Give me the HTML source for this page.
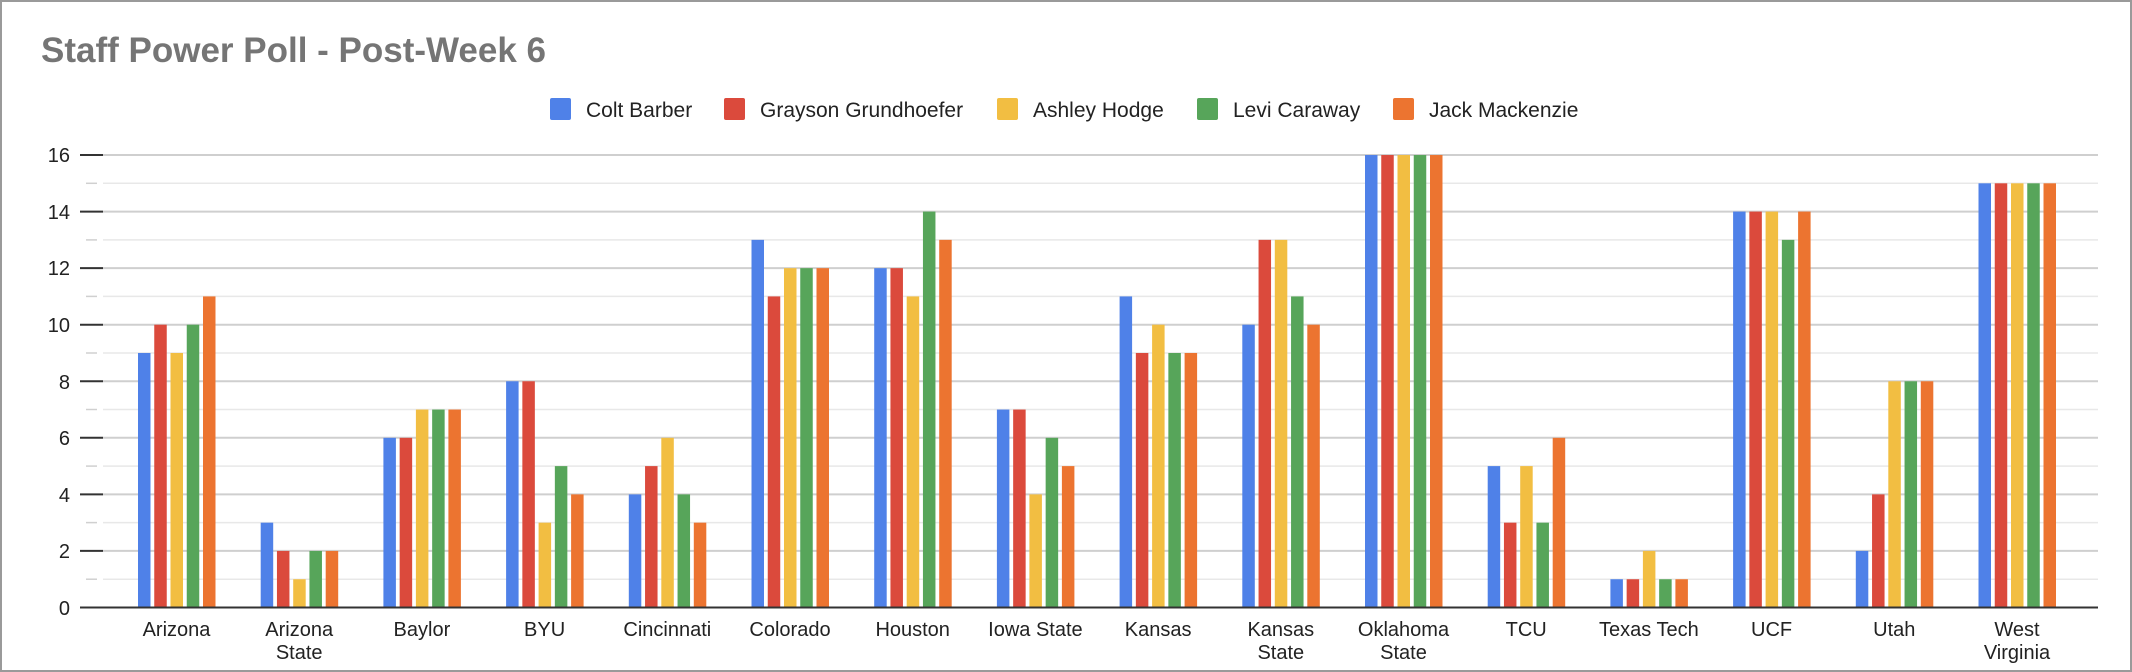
<!DOCTYPE html>
<html><head><meta charset="utf-8"><style>
html,body{margin:0;padding:0;background:#fff}
svg{display:block}
text{font-family:"Liberation Sans",Arial,sans-serif}
</style></head><body>
<svg width="2132" height="672" viewBox="0 0 2132 672" xmlns="http://www.w3.org/2000/svg">
<rect x="1" y="1" width="2130" height="670" fill="#fff" stroke="#9a9a9a" stroke-width="2"/>
<text x="41" y="62" font-size="35" font-weight="bold" fill="#757575">Staff Power Poll - Post-Week 6</text>
<g font-size="21" fill="#222">
<rect x="550" y="98" width="21" height="22" rx="2" fill="#4f81e8"/><text x="586" y="117">Colt Barber</text>
<rect x="724" y="98" width="21" height="22" rx="2" fill="#db4a3c"/><text x="760" y="117">Grayson Grundhoefer</text>
<rect x="997" y="98" width="21" height="22" rx="2" fill="#f2be42"/><text x="1033" y="117">Ashley Hodge</text>
<rect x="1197" y="98" width="21" height="22" rx="2" fill="#57a55a"/><text x="1233" y="117">Levi Caraway</text>
<rect x="1393" y="98" width="21" height="22" rx="2" fill="#ec7430"/><text x="1429" y="117">Jack Mackenzie</text>
</g>
<g stroke="#e8e8e8" stroke-width="1.5">
<line x1="103" x2="2098" y1="579.2" y2="579.2"/><line x1="103" x2="2098" y1="522.6" y2="522.6"/><line x1="103" x2="2098" y1="466.1" y2="466.1"/><line x1="103" x2="2098" y1="409.5" y2="409.5"/><line x1="103" x2="2098" y1="353" y2="353"/><line x1="103" x2="2098" y1="296.4" y2="296.4"/><line x1="103" x2="2098" y1="239.9" y2="239.9"/><line x1="103" x2="2098" y1="183.3" y2="183.3"/>
</g>
<g stroke="#d0d0d0" stroke-width="1.5">
<line x1="86" x2="97" y1="579.2" y2="579.2"/><line x1="86" x2="97" y1="522.6" y2="522.6"/><line x1="86" x2="97" y1="466.1" y2="466.1"/><line x1="86" x2="97" y1="409.5" y2="409.5"/><line x1="86" x2="97" y1="353" y2="353"/><line x1="86" x2="97" y1="296.4" y2="296.4"/><line x1="86" x2="97" y1="239.9" y2="239.9"/><line x1="86" x2="97" y1="183.3" y2="183.3"/>
</g>
<g stroke="#cfcfcf" stroke-width="2">
<line x1="103" x2="2098" y1="550.9" y2="550.9"/><line x1="103" x2="2098" y1="494.4" y2="494.4"/><line x1="103" x2="2098" y1="437.8" y2="437.8"/><line x1="103" x2="2098" y1="381.3" y2="381.3"/><line x1="103" x2="2098" y1="324.7" y2="324.7"/><line x1="103" x2="2098" y1="268.1" y2="268.1"/><line x1="103" x2="2098" y1="211.6" y2="211.6"/><line x1="103" x2="2098" y1="155" y2="155"/>
</g>
<g stroke="#333" stroke-width="2">
<line x1="80" x2="103" y1="550.9" y2="550.9"/><line x1="80" x2="103" y1="494.4" y2="494.4"/><line x1="80" x2="103" y1="437.8" y2="437.8"/><line x1="80" x2="103" y1="381.3" y2="381.3"/><line x1="80" x2="103" y1="324.7" y2="324.7"/><line x1="80" x2="103" y1="268.1" y2="268.1"/><line x1="80" x2="103" y1="211.6" y2="211.6"/><line x1="80" x2="103" y1="155" y2="155"/>
</g>
<g font-size="20" fill="#222" text-anchor="end">
<text x="70" y="615">0</text><text x="70" y="558">2</text><text x="70" y="502">4</text><text x="70" y="445">6</text><text x="70" y="389">8</text><text x="70" y="332">10</text><text x="70" y="275">12</text><text x="70" y="219">14</text><text x="70" y="162">16</text>
</g>
<g>
<g transform="translate(138,607.5) scale(1,-28.28)"><rect x="0" width="12.5" height="9" fill="#4f81e8"/><rect x="16.25" width="12.5" height="10" fill="#db4a3c"/><rect x="32.5" width="12.5" height="9" fill="#f2be42"/><rect x="48.75" width="12.5" height="10" fill="#57a55a"/><rect x="65" width="12.5" height="11" fill="#ec7430"/></g>
<g transform="translate(260.7,607.5) scale(1,-28.28)"><rect x="0" width="12.5" height="3" fill="#4f81e8"/><rect x="16.25" width="12.5" height="2" fill="#db4a3c"/><rect x="32.5" width="12.5" height="1" fill="#f2be42"/><rect x="48.75" width="12.5" height="2" fill="#57a55a"/><rect x="65" width="12.5" height="2" fill="#ec7430"/></g>
<g transform="translate(383.4,607.5) scale(1,-28.28)"><rect x="0" width="12.5" height="6" fill="#4f81e8"/><rect x="16.25" width="12.5" height="6" fill="#db4a3c"/><rect x="32.5" width="12.5" height="7" fill="#f2be42"/><rect x="48.75" width="12.5" height="7" fill="#57a55a"/><rect x="65" width="12.5" height="7" fill="#ec7430"/></g>
<g transform="translate(506.1,607.5) scale(1,-28.28)"><rect x="0" width="12.5" height="8" fill="#4f81e8"/><rect x="16.25" width="12.5" height="8" fill="#db4a3c"/><rect x="32.5" width="12.5" height="3" fill="#f2be42"/><rect x="48.75" width="12.5" height="5" fill="#57a55a"/><rect x="65" width="12.5" height="4" fill="#ec7430"/></g>
<g transform="translate(628.8,607.5) scale(1,-28.28)"><rect x="0" width="12.5" height="4" fill="#4f81e8"/><rect x="16.25" width="12.5" height="5" fill="#db4a3c"/><rect x="32.5" width="12.5" height="6" fill="#f2be42"/><rect x="48.75" width="12.5" height="4" fill="#57a55a"/><rect x="65" width="12.5" height="3" fill="#ec7430"/></g>
<g transform="translate(751.5,607.5) scale(1,-28.28)"><rect x="0" width="12.5" height="13" fill="#4f81e8"/><rect x="16.25" width="12.5" height="11" fill="#db4a3c"/><rect x="32.5" width="12.5" height="12" fill="#f2be42"/><rect x="48.75" width="12.5" height="12" fill="#57a55a"/><rect x="65" width="12.5" height="12" fill="#ec7430"/></g>
<g transform="translate(874.2,607.5) scale(1,-28.28)"><rect x="0" width="12.5" height="12" fill="#4f81e8"/><rect x="16.25" width="12.5" height="12" fill="#db4a3c"/><rect x="32.5" width="12.5" height="11" fill="#f2be42"/><rect x="48.75" width="12.5" height="14" fill="#57a55a"/><rect x="65" width="12.5" height="13" fill="#ec7430"/></g>
<g transform="translate(996.9,607.5) scale(1,-28.28)"><rect x="0" width="12.5" height="7" fill="#4f81e8"/><rect x="16.25" width="12.5" height="7" fill="#db4a3c"/><rect x="32.5" width="12.5" height="4" fill="#f2be42"/><rect x="48.75" width="12.5" height="6" fill="#57a55a"/><rect x="65" width="12.5" height="5" fill="#ec7430"/></g>
<g transform="translate(1119.6,607.5) scale(1,-28.28)"><rect x="0" width="12.5" height="11" fill="#4f81e8"/><rect x="16.25" width="12.5" height="9" fill="#db4a3c"/><rect x="32.5" width="12.5" height="10" fill="#f2be42"/><rect x="48.75" width="12.5" height="9" fill="#57a55a"/><rect x="65" width="12.5" height="9" fill="#ec7430"/></g>
<g transform="translate(1242.3,607.5) scale(1,-28.28)"><rect x="0" width="12.5" height="10" fill="#4f81e8"/><rect x="16.25" width="12.5" height="13" fill="#db4a3c"/><rect x="32.5" width="12.5" height="13" fill="#f2be42"/><rect x="48.75" width="12.5" height="11" fill="#57a55a"/><rect x="65" width="12.5" height="10" fill="#ec7430"/></g>
<g transform="translate(1365,607.5) scale(1,-28.28)"><rect x="0" width="12.5" height="16" fill="#4f81e8"/><rect x="16.25" width="12.5" height="16" fill="#db4a3c"/><rect x="32.5" width="12.5" height="16" fill="#f2be42"/><rect x="48.75" width="12.5" height="16" fill="#57a55a"/><rect x="65" width="12.5" height="16" fill="#ec7430"/></g>
<g transform="translate(1487.7,607.5) scale(1,-28.28)"><rect x="0" width="12.5" height="5" fill="#4f81e8"/><rect x="16.25" width="12.5" height="3" fill="#db4a3c"/><rect x="32.5" width="12.5" height="5" fill="#f2be42"/><rect x="48.75" width="12.5" height="3" fill="#57a55a"/><rect x="65" width="12.5" height="6" fill="#ec7430"/></g>
<g transform="translate(1610.4,607.5) scale(1,-28.28)"><rect x="0" width="12.5" height="1" fill="#4f81e8"/><rect x="16.25" width="12.5" height="1" fill="#db4a3c"/><rect x="32.5" width="12.5" height="2" fill="#f2be42"/><rect x="48.75" width="12.5" height="1" fill="#57a55a"/><rect x="65" width="12.5" height="1" fill="#ec7430"/></g>
<g transform="translate(1733.1,607.5) scale(1,-28.28)"><rect x="0" width="12.5" height="14" fill="#4f81e8"/><rect x="16.25" width="12.5" height="14" fill="#db4a3c"/><rect x="32.5" width="12.5" height="14" fill="#f2be42"/><rect x="48.75" width="12.5" height="13" fill="#57a55a"/><rect x="65" width="12.5" height="14" fill="#ec7430"/></g>
<g transform="translate(1855.8,607.5) scale(1,-28.28)"><rect x="0" width="12.5" height="2" fill="#4f81e8"/><rect x="16.25" width="12.5" height="4" fill="#db4a3c"/><rect x="32.5" width="12.5" height="8" fill="#f2be42"/><rect x="48.75" width="12.5" height="8" fill="#57a55a"/><rect x="65" width="12.5" height="8" fill="#ec7430"/></g>
<g transform="translate(1978.5,607.5) scale(1,-28.28)"><rect x="0" width="12.5" height="15" fill="#4f81e8"/><rect x="16.25" width="12.5" height="15" fill="#db4a3c"/><rect x="32.5" width="12.5" height="15" fill="#f2be42"/><rect x="48.75" width="12.5" height="15" fill="#57a55a"/><rect x="65" width="12.5" height="15" fill="#ec7430"/></g>
</g>
<line x1="80" x2="2098" y1="607.5" y2="607.5" stroke="#333" stroke-width="2"/>
<g font-size="20" fill="#222" text-anchor="middle">
<text x="176.5" y="636">Arizona</text>
<text x="299.2" y="636">Arizona</text><text x="299.2" y="659">State</text>
<text x="421.9" y="636">Baylor</text>
<text x="544.6" y="636">BYU</text>
<text x="667.3" y="636">Cincinnati</text>
<text x="790" y="636">Colorado</text>
<text x="912.7" y="636">Houston</text>
<text x="1035.4" y="636">Iowa State</text>
<text x="1158.1" y="636">Kansas</text>
<text x="1280.8" y="636">Kansas</text><text x="1280.8" y="659">State</text>
<text x="1403.5" y="636">Oklahoma</text><text x="1403.5" y="659">State</text>
<text x="1526.2" y="636">TCU</text>
<text x="1648.9" y="636">Texas Tech</text>
<text x="1771.6" y="636">UCF</text>
<text x="1894.3" y="636">Utah</text>
<text x="2017" y="636">West</text><text x="2017" y="659">Virginia</text>
</g>
</svg>
</body></html>
